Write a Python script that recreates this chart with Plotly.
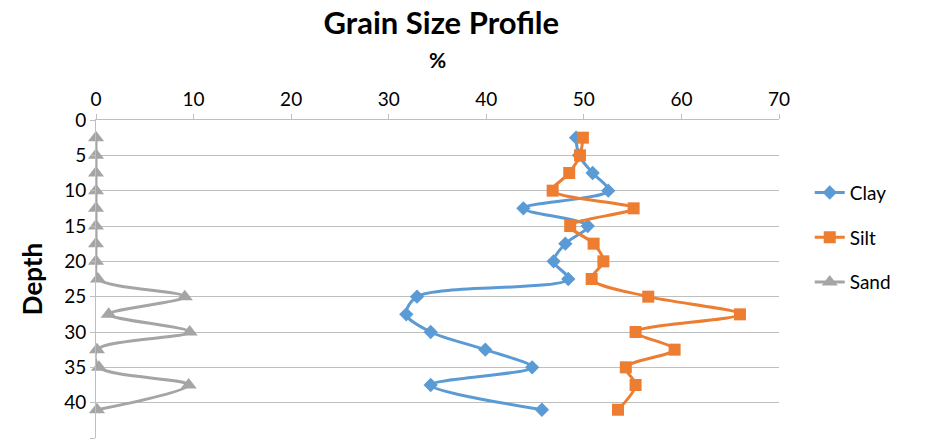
import plotly.graph_objects as go

# Sample depths and grain-size fractions (%)
depth = [2.5, 5, 7.5, 10, 12.5, 15, 17.5, 20, 22.5, 25, 27.5, 30, 32.5, 35, 37.5, 41]
clay = [49.2, 49.5, 50.9, 52.5, 43.8, 50.4, 48.1, 46.9, 48.4, 32.9, 31.8, 34.3, 39.9, 44.7, 34.3, 45.7]
silt = [49.9, 49.6, 48.5, 46.8, 55.1, 48.6, 51.0, 52.0, 50.8, 56.6, 66.0, 55.3, 59.3, 54.3, 55.3, 53.5]
sand = [0, 0, 0, 0, 0, 0, 0, 0, 0.2, 9.1, 1.3, 9.6, 0.1, 0.3, 9.5, 0.1]

x_ticks = [0, 10, 20, 30, 40, 50, 60, 70]
y_ticks = [0, 5, 10, 15, 20, 25, 30, 35, 40, 45]

series = [
    ("Clay", clay, "#5B9BD5", "diamond", 11),
    ("Silt", silt, "#ED7D31", "square", 12),
    ("Sand", sand, "#A5A5A5", "triangle-up", 14),
]

FONT = "Lato, 'Open Sans', sans-serif"

fig = go.Figure()
for name, vals, color, symbol, size in series:
    fig.add_trace(go.Scatter(
        x=vals, y=depth, name=name, legendgroup=name,
        mode="lines+markers", cliponaxis=False,
        line=dict(color=color, width=3, shape="spline", smoothing=0.9),
        marker=dict(symbol=symbol, size=size, color=color),
    ))

fig.update_layout(
    width=935, height=448,
    margin=dict(l=96, r=156, t=120, b=10),
    paper_bgcolor="white", plot_bgcolor="white",
    font=dict(family=FONT, size=18, color="#000000"),
    title=dict(text="<b>Grain Size Profile</b>", x=0.472, xref="container",
               y=0.948, yref="container", xanchor="center", yanchor="middle",
               font=dict(size=31, family=FONT, color="#000000")),
    legend=dict(x=1.045, y=0.63, xanchor="left", yanchor="middle",
                font=dict(size=19, family=FONT), tracegroupgap=17,
                bgcolor="rgba(0,0,0,0)"),
    showlegend=True,
)

fig.update_xaxes(
    side="top", range=[0, 70], tickvals=x_ticks,
    showgrid=False, zeroline=False,
    showline=True, linecolor="#BFBFBF", linewidth=1,
    ticks="outside", ticklen=5, tickcolor="#BFBFBF",
    tickfont=dict(size=19, family=FONT),
    title=dict(text="<b>%</b>", font=dict(size=21, family=FONT), standoff=13),
)

fig.update_yaxes(
    range=[45, 0], tickvals=y_ticks,
    showgrid=True, gridcolor="#BFBFBF", gridwidth=1,
    zeroline=False,
    showline=True, linecolor="#BFBFBF", linewidth=1,
    ticks="outside", ticklen=5, tickcolor="#BFBFBF",
    tickfont=dict(size=19, family=FONT),
    title=dict(text="<b>Depth</b>", font=dict(size=26, family=FONT), standoff=14),
)

fig.write_html("out.html")
